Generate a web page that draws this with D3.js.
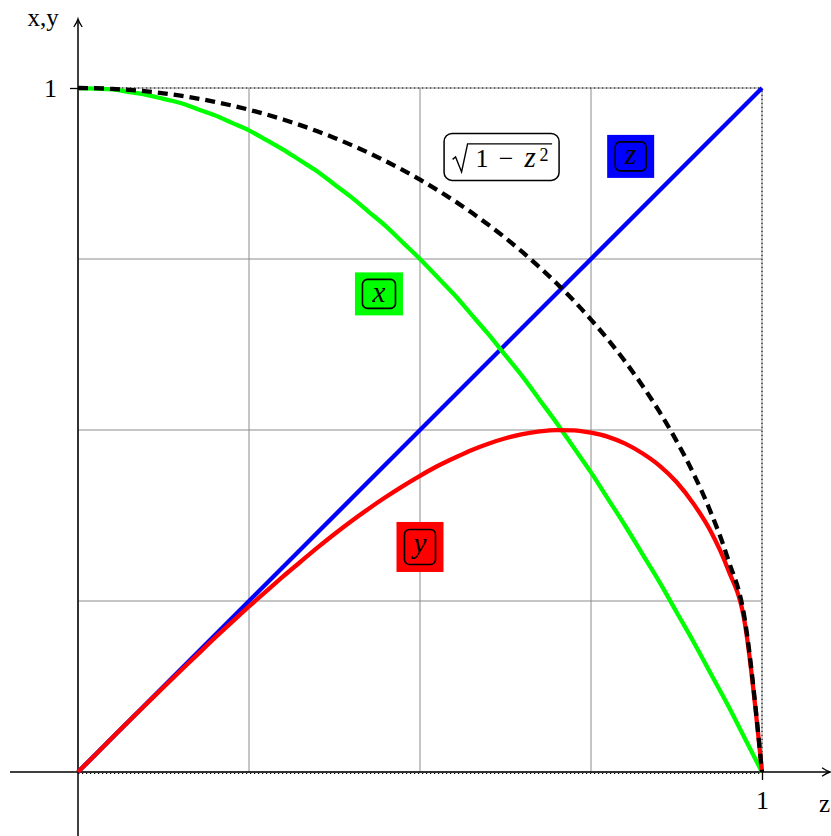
<!DOCTYPE html>
<html>
<head>
<meta charset="utf-8">
<script src="https://cdn.jsdelivr.net/npm/d3@7"></script>
<style>
  html, body { margin: 0; padding: 0; background: #fff; }
  svg { display: block; }
  text { font-family: "Liberation Serif", "DejaVu Serif", serif; fill: #000; }
</style>
</head>
<body>
<script>
// Sample positions along z
const zValues = [0, 0.025, 0.05, 0.075, 0.1, 0.125, 0.15, 0.175, 0.2, 0.225, 0.25, 0.275, 0.3, 0.325, 0.35, 0.375, 0.4, 0.425, 0.45, 0.475, 0.5, 0.525, 0.55, 0.575, 0.6, 0.625, 0.65, 0.675, 0.7, 0.725, 0.75, 0.775, 0.8, 0.825, 0.85, 0.875, 0.9, 0.925, 0.95, 0.975, 1];

// x component (green)
const xValues = [1, 0.999, 0.998, 0.994, 0.99, 0.984, 0.978, 0.969, 0.96, 0.949, 0.938, 0.924, 0.91, 0.894, 0.878, 0.859, 0.84, 0.819, 0.798, 0.774, 0.75, 0.724, 0.698, 0.669, 0.64, 0.609, 0.578, 0.544, 0.51, 0.474, 0.438, 0.399, 0.36, 0.319, 0.278, 0.234, 0.19, 0.144, 0.098, 0.049, 0];

// y component (red)
const yValues = [0, 0.025, 0.05, 0.075, 0.0995, 0.124, 0.148, 0.172, 0.196, 0.219, 0.242, 0.264, 0.286, 0.307, 0.328, 0.348, 0.367, 0.385, 0.402, 0.418, 0.433, 0.447, 0.459, 0.4705, 0.48, 0.488, 0.494, 0.498, 0.4999, 0.4994, 0.496, 0.49, 0.48, 0.466, 0.448, 0.424, 0.392, 0.352, 0.297, 0.217, 0];

// sqrt(1 - z^2) envelope (black dashed)
const rootValues = [1, 0.9997, 0.9987, 0.9972, 0.995, 0.9922, 0.9887, 0.9846, 0.9798, 0.9744, 0.9682, 0.9614, 0.9539, 0.9457, 0.9367, 0.927, 0.9165, 0.9052, 0.893, 0.88, 0.866, 0.8511, 0.8352, 0.8182, 0.8, 0.7806, 0.7599, 0.7378, 0.7141, 0.6888, 0.6614, 0.632, 0.6, 0.5651, 0.5268, 0.4841, 0.4359, 0.38, 0.3122, 0.2222, 0];

// z component (blue)
const zLineZ = [0, 1];
const zLineV = [0, 1];

const gridTicks = [0, 0.25, 0.5, 0.75, 1];
const axisTickValues = [1];
const axisTickLabels = ["1"];

const W = 831, H = 836;
const svg = d3.select("body").append("svg").attr("width", W).attr("height", H);

const xs = d3.scaleLinear().domain([0, 1]).range([78, 762]);
const ys = d3.scaleLinear().domain([0, 1]).range([772, 88]);

// grid
const grid = svg.append("g").attr("stroke", "#8c8c8c").attr("stroke-width", 1);
gridTicks.forEach(t => {
  grid.append("line").attr("x1", xs(t)).attr("x2", xs(t)).attr("y1", ys(0)).attr("y2", ys(1));
  grid.append("line").attr("x1", xs(0)).attr("x2", xs(1)).attr("y1", ys(t)).attr("y2", ys(t));
});
// dotted frame
const frame = svg.append("g").attr("stroke", "#000").attr("stroke-width", 1).attr("stroke-dasharray", "1.2,2.8");
frame.append("line").attr("x1", xs(0)).attr("x2", xs(1)).attr("y1", ys(1)).attr("y2", ys(1));
frame.append("line").attr("x1", xs(1)).attr("x2", xs(1)).attr("y1", ys(0)).attr("y2", ys(1));
frame.append("line").attr("x1", xs(0)).attr("x2", xs(1)).attr("y1", ys(0) + 1.5).attr("y2", ys(0) + 1.5);

// axes
const arrow = "M -8,-4.2 Q -3,-0.8 0,0 Q -3,0.8 -8,4.2";
const axes = svg.append("g").attr("stroke", "#000").attr("fill", "none").attr("stroke-width", 1.5);
axes.append("line").attr("x1", 10).attr("x2", 829).attr("y1", ys(0)).attr("y2", ys(0));
axes.append("path").attr("d", arrow).attr("transform", `translate(830,${ys(0)})`).attr("stroke-width", 1.3);
axes.append("line").attr("x1", xs(0)).attr("x2", xs(0)).attr("y1", 836).attr("y2", 20);
axes.append("path").attr("d", arrow).attr("transform", `translate(${xs(0)},19) rotate(-90)`).attr("stroke-width", 1.3);

const xAxis = d3.axisBottom(xs).tickValues(axisTickValues).tickFormat((d, i) => axisTickLabels[i]).tickSize(8).tickPadding(11);
const gx = svg.append("g").attr("transform", `translate(0,${ys(0)})`).call(xAxis);
gx.select(".domain").remove();
gx.selectAll(".tick line").attr("y1", -8).attr("stroke", "#000").attr("stroke-width", 1.3);
gx.selectAll(".tick text").attr("font-size", 26).attr("font-family", "Liberation Serif, serif").attr("dy", "0.71em");

const yAxis = d3.axisLeft(ys).tickValues(axisTickValues).tickFormat((d, i) => axisTickLabels[i]).tickSize(8).tickPadding(13);
const gy = svg.append("g").attr("transform", `translate(${xs(0)},0)`).call(yAxis);
gy.select(".domain").remove();
gy.selectAll(".tick line").attr("x1", 8).attr("stroke", "#000").attr("stroke-width", 1.3);
gy.selectAll(".tick text").attr("font-size", 26).attr("font-family", "Liberation Serif, serif").attr("dy", "0.33em");

svg.append("text").attr("x", 43).attr("y", 26).attr("text-anchor", "middle").attr("font-size", 25).text("x,y");
svg.append("text").attr("x", 819).attr("y", 812).attr("font-size", 25).text("z");

// curves
const line = d3.line().curve(d3.curveMonotoneX).x(d => xs(d[0])).y(d => ys(d[1]));
const pts = vals => zValues.map((z, i) => [z, vals[i]]);

svg.append("path").datum(zLineZ.map((z, i) => [z, zLineV[i]]))
  .attr("d", line).attr("fill", "none").attr("stroke", "#0000ff").attr("stroke-width", 4.3);
svg.append("path").datum(pts(xValues))
  .attr("d", line).attr("fill", "none").attr("stroke", "#00ff00").attr("stroke-width", 4.3);
svg.append("path").datum(pts(yValues))
  .attr("d", line).attr("fill", "none").attr("stroke", "#ff0000").attr("stroke-width", 4.3);
svg.append("path").datum(pts(rootValues))
  .attr("d", line).attr("fill", "none").attr("stroke", "#000").attr("stroke-width", 4.3)
  .attr("stroke-dasharray", "10,6");

// labels
const labels = [
  { name: "z", z: 0.808, v: 0.9, fill: "#0000ff", w: 47, h: 43, iw: 31, ih: 29, dy: 8 },
  { name: "x", z: 0.44, v: 0.699, fill: "#00ff00", w: 48, h: 43, iw: 33, ih: 29, dy: 8 },
  { name: "y", z: 0.5, v: 0.329, fill: "#ff0000", w: 47, h: 50, iw: 31, ih: 35, dy: 6.5 }
];
labels.forEach(l => {
  const g = svg.append("g").attr("transform", `translate(${xs(l.z)},${ys(l.v)})`);
  g.append("rect").attr("x", -l.w / 2).attr("y", -l.h / 2).attr("width", l.w).attr("height", l.h).attr("fill", l.fill);
  g.append("rect").attr("x", -l.iw / 2).attr("y", -l.ih / 2).attr("width", l.iw).attr("height", l.ih)
    .attr("rx", 5).attr("fill", "none").attr("stroke", "#000").attr("stroke-width", 1.6);
  g.append("text").attr("x", 0).attr("y", l.dy).attr("text-anchor", "middle")
    .attr("font-size", 29).attr("font-style", "italic").text(l.name);
});

// sqrt(1 - z^2) label
const sq = svg.append("g").attr("transform", `translate(${xs(0.62)},${ys(0.9)})`);
sq.append("rect").attr("x", -58).attr("y", -23).attr("width", 115).attr("height", 47)
  .attr("rx", 8).attr("fill", "#fff").attr("stroke", "#000").attr("stroke-width", 1.5);
sq.append("path").attr("d", "M -49.5,3 L -46.5,0.5 L -40.5,15.5 L -34.5,-12.5 L 50,-12.5")
  .attr("fill", "none").attr("stroke", "#000").attr("stroke-width", 1.4).attr("stroke-linejoin", "miter");
const sqParts = [
  { t: "1", x: -20, italic: false },
  { t: "\u2212", x: 4, italic: false },
  { t: "z", x: 28, italic: true }
];
sqParts.forEach(p => {
  sq.append("text").attr("x", p.x).attr("y", 10.5).attr("text-anchor", "middle")
    .attr("font-size", p.italic ? 29 : 26).attr("font-style", p.italic ? "italic" : null).text(p.t);
});
sq.append("text").attr("x", 42).attr("y", 5).attr("text-anchor", "middle").attr("font-size", 18).text("2");
</script>
</body>
</html>
